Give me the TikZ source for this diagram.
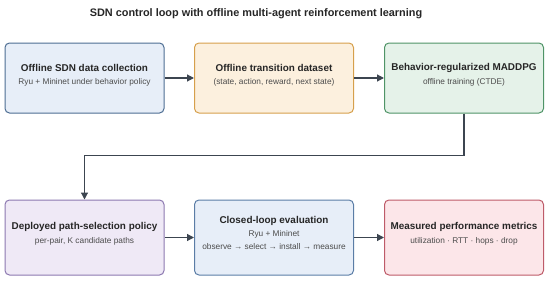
\documentclass[tikz,border=0pt]{standalone}
\usepackage{fontspec}
\setmainfont{Liberation Sans}
\usetikzlibrary{arrows.meta}
\definecolor{arr}{HTML}{3C4550}
\definecolor{f1}{HTML}{E7EEF8}\definecolor{d1}{HTML}{4D6D92}
\definecolor{f2}{HTML}{FCF0DE}\definecolor{d2}{HTML}{D6A04C}
\definecolor{f3}{HTML}{E5F2E9}\definecolor{d3}{HTML}{4F9467}
\definecolor{f4}{HTML}{EFE9F6}\definecolor{d4}{HTML}{8C78B0}
\definecolor{f5}{HTML}{E7EEF8}\definecolor{d5}{HTML}{5B7DA6}
\definecolor{f6}{HTML}{FCE6E9}\definecolor{d6}{HTML}{BE5B69}
\tikzset{
  x=1pt,y=-1pt,
  box/.style={draw, line width=1pt, rounded corners=4.5pt, minimum width=159pt, minimum height=70pt, inner sep=0pt},
  boxlow/.style={box, minimum height=75pt},
  ttl/.style={font=\fontsize{9.9}{11}\selectfont\bfseries, text=black!85, inner sep=0pt},
  sub/.style={font=\fontsize{8.3}{10}\selectfont, text=black!70, inner sep=0pt, align=center},
  conn/.style={draw=arr, line width=1.2pt, -{Triangle[length=7pt,width=7pt]}}
}
\begin{document}
\begin{tikzpicture}
\useasboundingbox (0,0) rectangle (550,281);
\node[font=\fontsize{10.9}{13}\selectfont\bfseries, text=black!85, inner sep=0pt] (title) at (256,14) {SDN control loop with offline multi-agent reinforcement learning};

\node[box, fill=f1, draw=d1] (b1) at (84.5,78) {};
\node[box, fill=f2, draw=d2] (b2) at (274,78) {};
\node[box, fill=f3, draw=d3] (b3) at (464,78) {};
\node[boxlow, fill=f4, draw=d4] (b4) at (84.5,237.5) {};
\node[boxlow, fill=f5, draw=d5] (b5) at (274,237.5) {};
\node[boxlow, fill=f6, draw=d6] (b6) at (464,237.5) {};

\node[ttl] (t1) at (84.5,68) {Offline SDN data collection};
\node[sub] (s1) at (84.5,82) {Ryu + Mininet under behavior policy};
\node[ttl] (t2) at (274,68) {Offline transition dataset};
\node[sub] (s2) at (274,82) {(state, action, reward, next state)};
\node[ttl] (t3) at (464,68) {Behavior-regularized MADDPG};
\node[sub] (s3) at (464,82) {offline training (CTDE)};
\node[ttl] (t4) at (84.5,227) {Deployed path-selection policy};
\node[sub] (s4) at (84.5,241) {per-pair, K candidate paths};
\node[ttl] (t5) at (274,221) {Closed-loop evaluation};
\node[sub] (s5) at (274,234) {Ryu + Mininet};
\node[sub] (s5b) at (274,247) {observe → select → install → measure};
\node[ttl] (t6) at (464,227) {Measured performance metrics};
\node[sub] (s6) at (464,241) {utilization · RTT · hops · drop};

\draw[conn] (b1.east) -- (b2.west);
\draw[conn] (b2.east) -- (b3.west);
\draw[conn] (b3.south) -- ++(0,42) -| (b4.north);
\draw[conn] (b4.east) -- (b5.west);
\draw[conn] (b5.east) -- (b6.west);
\end{tikzpicture}
\end{document}
